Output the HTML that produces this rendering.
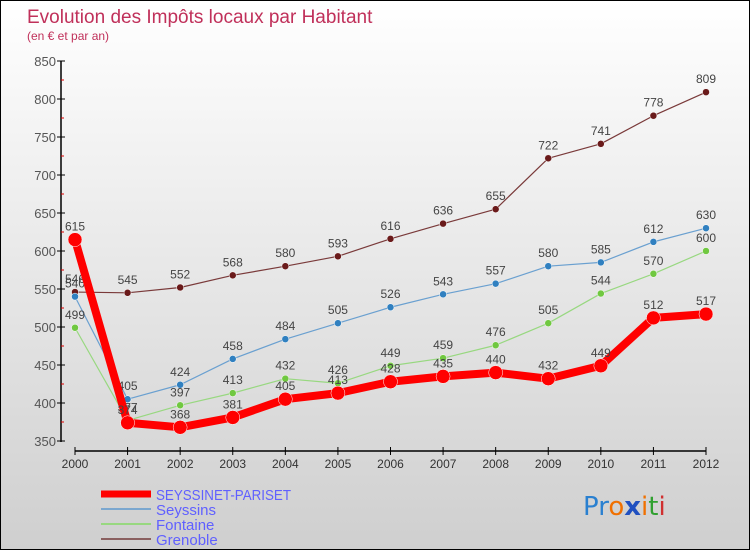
<!DOCTYPE html>
<html><head><meta charset="utf-8"><style>
body{margin:0}
#c{position:relative;width:748px;height:548px;border:1px solid #000;background:linear-gradient(#fff,#cfcfcf);font-family:"Liberation Sans",sans-serif;overflow:hidden}
</style></head><body>
<div id="c">
<svg id="s" width="748" height="548" xmlns="http://www.w3.org/2000/svg">
<text x="26" y="22" font-size="19" fill="#c0305a">Evolution des Impôts locaux par Habitant</text>
<text x="26" y="39" font-size="12" fill="#c0305a">(en € et par an)</text>
<g id="axes"></g><g id="series"></g>
<g font-size="15" fill="#6060ff">
<line x1="100" y1="493" x2="150" y2="493" stroke="#f00" stroke-width="7"/>
<text x="155" y="499" textLength="135" lengthAdjust="spacingAndGlyphs">SEYSSINET-PARISET</text>
<line x1="100" y1="508" x2="150" y2="508" stroke="#7ba7cf" stroke-width="2"/>
<text x="155" y="514">Seyssins</text>
<line x1="100" y1="523" x2="150" y2="523" stroke="#98d880" stroke-width="2"/>
<text x="155" y="529">Fontaine</text>
<line x1="100" y1="538" x2="150" y2="538" stroke="#8a6060" stroke-width="2"/>
<text x="155" y="544">Grenoble</text>
</g>
<text x="582" y="514" font-size="26" font-family="DejaVu Sans"><tspan fill="#2a80d0">Pr</tspan><tspan fill="#f07000">o</tspan><tspan fill="#2050c0" font-weight="bold">x</tspan><tspan fill="#f07000">i</tspan><tspan fill="#30a030">t</tspan><tspan fill="#d03030">i</tspan></text>
</svg></div>
<script>
const years=["2000","2001","2002","2003","2004","2005","2006","2007","2008","2009","2010","2011","2012"];
const yTicks=[350,400,450,500,550,600,650,700,750,800,850];
const seyssinet=[615,374,368,381,405,413,428,435,440,432,449,512,517];
const seyssins=[540,405,424,458,484,505,526,543,557,580,585,612,630];
const fontaine=[499,377,397,413,432,426,449,459,476,505,544,570,600];
const grenoble=[546,545,552,568,580,593,616,636,655,722,741,778,809];
const NS="http://www.w3.org/2000/svg";
const X=i=>74+i*(705-74)/(years.length-1);
const Y=v=>440-(v-350)*(440-60)/500;
function mk(t,a,p){const e=document.createElementNS(NS,t);for(const k in a)e.setAttribute(k,a[k]);p.appendChild(e);return e;}
const ax=document.getElementById('axes');
let l=mk('line',{x1:60,y1:60,x2:60,y2:441,stroke:'#000','stroke-width':1.5},ax);


yTicks.forEach((v,i)=>{
 mk('line',{x1:56,x2:64,y1:Y(v),y2:Y(v),stroke:'#000'},ax);
 if(i<yTicks.length-1)mk('line',{x1:60,x2:63,y1:Y(v+25),y2:Y(v+25),stroke:'#d00'},ax);
 const t=mk('text',{x:55,y:Y(v)+5,'text-anchor':'end','font-size':13,fill:'#555'},ax);t.textContent=v;
 
 
});
l=mk('line',{x1:X(0),y1:450,x2:X(12),y2:450,stroke:'#000','stroke-width':1.5},ax);


years.forEach((y,i)=>{
 mk('line',{x1:X(i),x2:X(i),y1:446,y2:454,stroke:'#000'},ax);
 const t=mk('text',{x:X(i),y:467,'text-anchor':'middle','font-size':12,fill:'#333'},ax);t.textContent=y;
 
 
});
const sg=document.getElementById('series');
function draw(name,data,col,w,r,dot){
 const g=mk('g',{},sg);
 
 
 const p=mk('polyline',{points:data.map((v,i)=>X(i)+','+Y(v)).join(' '),fill:'none',stroke:col,'stroke-width':w,'stroke-linejoin':'round'},g);
 
 
 data.forEach((v,i)=>{
  const c=mk('circle',{cx:X(i),cy:Y(v),r:r,fill:dot,stroke:'#fff','stroke-width':0.5},g);
  
  
  const t=mk('text',{x:X(i),y:Y(v)-9,'text-anchor':'middle','font-size':12,fill:'#444'},g);t.textContent=v;
  
  
 });
}
draw('grenoble',grenoble,'#7a3a3a',1.2,3.5,'#6a1a1a');
draw('seyssins',seyssins,'#6aa0d0',1.2,3.5,'#3080c0');
draw('fontaine',fontaine,'#98d880',1.2,3.5,'#70c840');
draw('seyssinet',seyssinet,'#f00',8,7,'#f00');
</script></body></html>
